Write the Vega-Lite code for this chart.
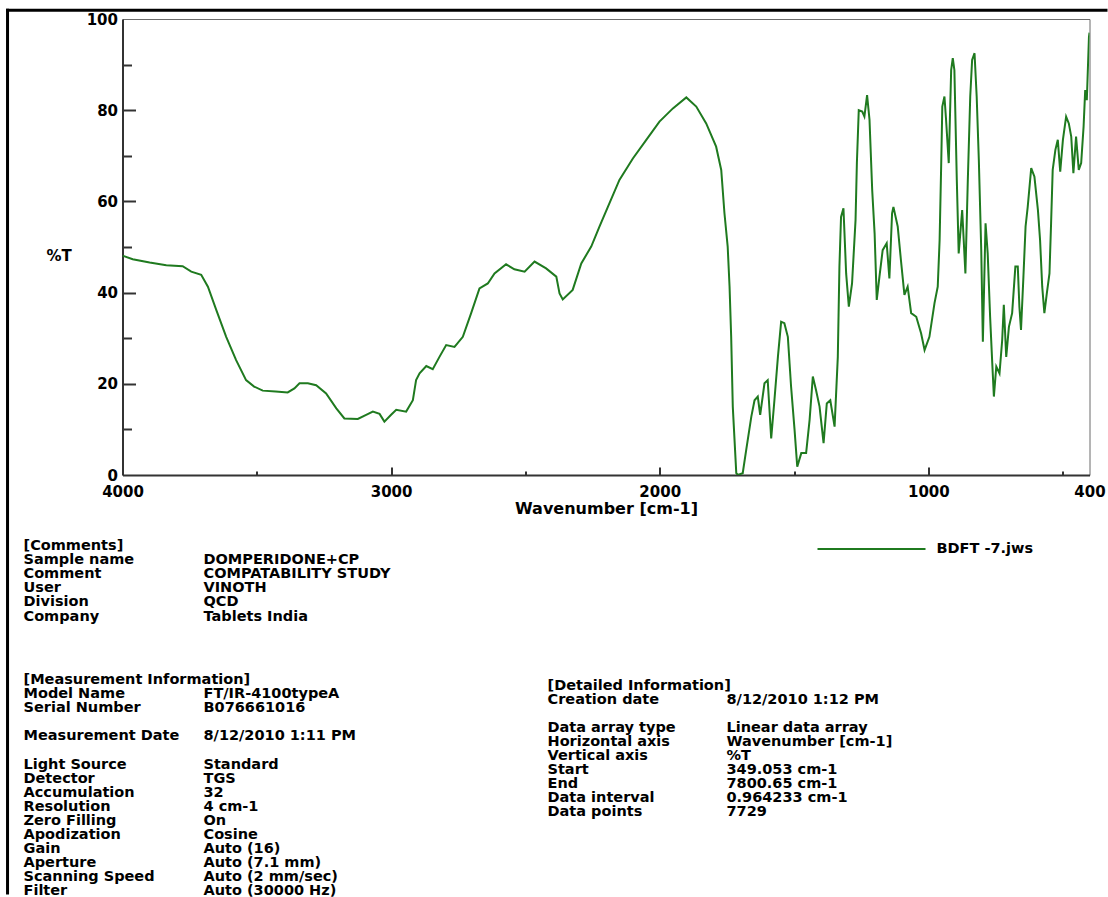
{
  "$schema": "https://vega.github.io/schema/vega-lite/v6.json",
  "background": "white",
  "padding": {"left": 3.5, "top": 6, "right": 0, "bottom": 0},
  "bounds": "flush",
  "spacing": 10,
  "config": {
    "font": "DejaVu Sans",
    "axis": {"grid": false, "labelFont": "DejaVu Sans", "labelFontWeight": "bold", "labelColor": "black", "titleFont": "DejaVu Sans", "titleFontWeight": "bold", "titleColor": "black"}
  },
  "datasets": {
    "spectrum": [
      {"wavenumber": 4000, "transmittance": 48.1}, {"wavenumber": 3962, "transmittance": 47.3}, {"wavenumber": 3899, "transmittance": 46.6},
      {"wavenumber": 3837, "transmittance": 46.0}, {"wavenumber": 3776, "transmittance": 45.8}, {"wavenumber": 3744, "transmittance": 44.6},
      {"wavenumber": 3707, "transmittance": 43.9}, {"wavenumber": 3682, "transmittance": 41.3}, {"wavenumber": 3651, "transmittance": 36.2},
      {"wavenumber": 3614, "transmittance": 30.3}, {"wavenumber": 3577, "transmittance": 25.2}, {"wavenumber": 3540, "transmittance": 20.8},
      {"wavenumber": 3510, "transmittance": 19.4}, {"wavenumber": 3478, "transmittance": 18.5}, {"wavenumber": 3430, "transmittance": 18.3},
      {"wavenumber": 3385, "transmittance": 18.1}, {"wavenumber": 3360, "transmittance": 19.0}, {"wavenumber": 3341, "transmittance": 20.1},
      {"wavenumber": 3310, "transmittance": 20.1}, {"wavenumber": 3279, "transmittance": 19.7}, {"wavenumber": 3242, "transmittance": 17.9},
      {"wavenumber": 3204, "transmittance": 14.6}, {"wavenumber": 3174, "transmittance": 12.4}, {"wavenumber": 3124, "transmittance": 12.3},
      {"wavenumber": 3093, "transmittance": 13.2}, {"wavenumber": 3068, "transmittance": 13.9}, {"wavenumber": 3043, "transmittance": 13.4},
      {"wavenumber": 3025, "transmittance": 11.7}, {"wavenumber": 3000, "transmittance": 13.2}, {"wavenumber": 2981, "transmittance": 14.3},
      {"wavenumber": 2944, "transmittance": 13.9}, {"wavenumber": 2919, "transmittance": 16.4}, {"wavenumber": 2907, "transmittance": 20.8},
      {"wavenumber": 2894, "transmittance": 22.3}, {"wavenumber": 2869, "transmittance": 23.9}, {"wavenumber": 2845, "transmittance": 23.2},
      {"wavenumber": 2820, "transmittance": 25.9}, {"wavenumber": 2795, "transmittance": 28.5}, {"wavenumber": 2764, "transmittance": 28.1},
      {"wavenumber": 2733, "transmittance": 30.3}, {"wavenumber": 2702, "transmittance": 35.5}, {"wavenumber": 2671, "transmittance": 40.9},
      {"wavenumber": 2640, "transmittance": 42.0}, {"wavenumber": 2615, "transmittance": 44.2}, {"wavenumber": 2572, "transmittance": 46.2},
      {"wavenumber": 2541, "transmittance": 45.1}, {"wavenumber": 2503, "transmittance": 44.6}, {"wavenumber": 2466, "transmittance": 46.8},
      {"wavenumber": 2423, "transmittance": 45.3}, {"wavenumber": 2385, "transmittance": 43.5}, {"wavenumber": 2373, "transmittance": 39.8},
      {"wavenumber": 2361, "transmittance": 38.5}, {"wavenumber": 2324, "transmittance": 40.6}, {"wavenumber": 2292, "transmittance": 46.4},
      {"wavenumber": 2255, "transmittance": 50.1}, {"wavenumber": 2224, "transmittance": 54.5}, {"wavenumber": 2187, "transmittance": 59.6},
      {"wavenumber": 2150, "transmittance": 64.7}, {"wavenumber": 2100, "transmittance": 69.4}, {"wavenumber": 2050, "transmittance": 73.5},
      {"wavenumber": 2001, "transmittance": 77.5}, {"wavenumber": 1951, "transmittance": 80.4}, {"wavenumber": 1901, "transmittance": 82.8},
      {"wavenumber": 1864, "transmittance": 80.8}, {"wavenumber": 1827, "transmittance": 77.1}, {"wavenumber": 1790, "transmittance": 72.0},
      {"wavenumber": 1771, "transmittance": 66.9}, {"wavenumber": 1759, "transmittance": 57.4}, {"wavenumber": 1747, "transmittance": 50.1},
      {"wavenumber": 1740, "transmittance": 41.3}, {"wavenumber": 1734, "transmittance": 30.3}, {"wavenumber": 1728, "transmittance": 15.0},
      {"wavenumber": 1715, "transmittance": 0.4}, {"wavenumber": 1709, "transmittance": 0.0}, {"wavenumber": 1691, "transmittance": 0.4},
      {"wavenumber": 1678, "transmittance": 5.5}, {"wavenumber": 1659, "transmittance": 12.8}, {"wavenumber": 1647, "transmittance": 16.4},
      {"wavenumber": 1635, "transmittance": 17.2}, {"wavenumber": 1626, "transmittance": 13.2}, {"wavenumber": 1610, "transmittance": 20.1},
      {"wavenumber": 1598, "transmittance": 20.8}, {"wavenumber": 1585, "transmittance": 8.0}, {"wavenumber": 1573, "transmittance": 16.4},
      {"wavenumber": 1560, "transmittance": 25.9}, {"wavenumber": 1548, "transmittance": 33.6}, {"wavenumber": 1536, "transmittance": 33.3},
      {"wavenumber": 1523, "transmittance": 30.3}, {"wavenumber": 1511, "transmittance": 19.4}, {"wavenumber": 1498, "transmittance": 9.9},
      {"wavenumber": 1488, "transmittance": 1.8}, {"wavenumber": 1473, "transmittance": 4.8}, {"wavenumber": 1455, "transmittance": 4.8},
      {"wavenumber": 1442, "transmittance": 12.1}, {"wavenumber": 1430, "transmittance": 21.6}, {"wavenumber": 1418, "transmittance": 18.6},
      {"wavenumber": 1405, "transmittance": 15.0}, {"wavenumber": 1390, "transmittance": 7.0}, {"wavenumber": 1378, "transmittance": 15.7},
      {"wavenumber": 1365, "transmittance": 16.4}, {"wavenumber": 1349, "transmittance": 10.6}, {"wavenumber": 1337, "transmittance": 25.9},
      {"wavenumber": 1331, "transmittance": 45.7}, {"wavenumber": 1325, "transmittance": 56.6}, {"wavenumber": 1316, "transmittance": 58.5},
      {"wavenumber": 1306, "transmittance": 44.2}, {"wavenumber": 1296, "transmittance": 36.9}, {"wavenumber": 1284, "transmittance": 42.0},
      {"wavenumber": 1271, "transmittance": 55.9}, {"wavenumber": 1266, "transmittance": 68.4}, {"wavenumber": 1259, "transmittance": 80.0},
      {"wavenumber": 1246, "transmittance": 79.7}, {"wavenumber": 1238, "transmittance": 78.6}, {"wavenumber": 1228, "transmittance": 83.3},
      {"wavenumber": 1219, "transmittance": 77.9}, {"wavenumber": 1209, "transmittance": 62.5}, {"wavenumber": 1200, "transmittance": 53.0},
      {"wavenumber": 1192, "transmittance": 38.4}, {"wavenumber": 1182, "transmittance": 43.5}, {"wavenumber": 1170, "transmittance": 49.3},
      {"wavenumber": 1155, "transmittance": 50.8}, {"wavenumber": 1145, "transmittance": 43.1}, {"wavenumber": 1135, "transmittance": 57.4},
      {"wavenumber": 1130, "transmittance": 58.8}, {"wavenumber": 1114, "transmittance": 54.5}, {"wavenumber": 1102, "transmittance": 47.1},
      {"wavenumber": 1089, "transmittance": 39.5}, {"wavenumber": 1077, "transmittance": 41.3}, {"wavenumber": 1064, "transmittance": 35.5},
      {"wavenumber": 1045, "transmittance": 34.7}, {"wavenumber": 1027, "transmittance": 31.1}, {"wavenumber": 1014, "transmittance": 27.4},
      {"wavenumber": 996, "transmittance": 30.3}, {"wavenumber": 977, "transmittance": 37.7}, {"wavenumber": 965, "transmittance": 41.3},
      {"wavenumber": 958, "transmittance": 51.5}, {"wavenumber": 952, "transmittance": 68.4}, {"wavenumber": 948, "transmittance": 80.8},
      {"wavenumber": 940, "transmittance": 83.0}, {"wavenumber": 934, "transmittance": 77.9}, {"wavenumber": 924, "transmittance": 68.4},
      {"wavenumber": 915, "transmittance": 88.8}, {"wavenumber": 909, "transmittance": 91.4}, {"wavenumber": 903, "transmittance": 88.8},
      {"wavenumber": 894, "transmittance": 64.7}, {"wavenumber": 887, "transmittance": 48.6}, {"wavenumber": 874, "transmittance": 58.1},
      {"wavenumber": 862, "transmittance": 44.2}, {"wavenumber": 853, "transmittance": 64.7}, {"wavenumber": 844, "transmittance": 83.0},
      {"wavenumber": 837, "transmittance": 91.0}, {"wavenumber": 828, "transmittance": 92.5}, {"wavenumber": 820, "transmittance": 83.0},
      {"wavenumber": 812, "transmittance": 69.1}, {"wavenumber": 803, "transmittance": 49.3}, {"wavenumber": 797, "transmittance": 29.2},
      {"wavenumber": 787, "transmittance": 55.2}, {"wavenumber": 779, "transmittance": 48.6}, {"wavenumber": 770, "transmittance": 34.7},
      {"wavenumber": 762, "transmittance": 24.5}, {"wavenumber": 756, "transmittance": 17.2}, {"wavenumber": 747, "transmittance": 23.8},
      {"wavenumber": 735, "transmittance": 22.3}, {"wavenumber": 725, "transmittance": 29.6}, {"wavenumber": 719, "transmittance": 37.3},
      {"wavenumber": 710, "transmittance": 25.9}, {"wavenumber": 700, "transmittance": 32.5}, {"wavenumber": 688, "transmittance": 35.5},
      {"wavenumber": 676, "transmittance": 45.7}, {"wavenumber": 667, "transmittance": 45.7}, {"wavenumber": 661, "transmittance": 36.9},
      {"wavenumber": 655, "transmittance": 31.8}, {"wavenumber": 646, "transmittance": 43.5}, {"wavenumber": 638, "transmittance": 54.5},
      {"wavenumber": 630, "transmittance": 58.8}, {"wavenumber": 617, "transmittance": 67.3}, {"wavenumber": 605, "transmittance": 65.4},
      {"wavenumber": 592, "transmittance": 58.1}, {"wavenumber": 584, "transmittance": 51.5}, {"wavenumber": 576, "transmittance": 41.3},
      {"wavenumber": 568, "transmittance": 35.5}, {"wavenumber": 559, "transmittance": 39.8}, {"wavenumber": 549, "transmittance": 44.2},
      {"wavenumber": 543, "transmittance": 55.2}, {"wavenumber": 537, "transmittance": 66.9}, {"wavenumber": 527, "transmittance": 71.3},
      {"wavenumber": 518, "transmittance": 73.5}, {"wavenumber": 509, "transmittance": 66.5}, {"wavenumber": 499, "transmittance": 73.5},
      {"wavenumber": 487, "transmittance": 78.6}, {"wavenumber": 477, "transmittance": 77.1}, {"wavenumber": 468, "transmittance": 74.2},
      {"wavenumber": 460, "transmittance": 66.2}, {"wavenumber": 450, "transmittance": 74.2}, {"wavenumber": 440, "transmittance": 66.9},
      {"wavenumber": 431, "transmittance": 68.4}, {"wavenumber": 422, "transmittance": 76.4}, {"wavenumber": 416, "transmittance": 84.4},
      {"wavenumber": 410, "transmittance": 82.2}, {"wavenumber": 402, "transmittance": 96.1}, {"wavenumber": 400, "transmittance": 97.0}
    ],
    "info": [
      {"block": "left", "line": 0, "key": "[Comments]", "value": ""},
      {"block": "left", "line": 1, "key": "Sample name", "value": "DOMPERIDONE+CP"},
      {"block": "left", "line": 2, "key": "Comment", "value": "COMPATABILITY STUDY"},
      {"block": "left", "line": 3, "key": "User", "value": "VINOTH"},
      {"block": "left", "line": 4, "key": "Division", "value": "QCD"},
      {"block": "left", "line": 5, "key": "Company", "value": "Tablets India"},
      {"block": "left", "line": 9.5, "key": "[Measurement Information]", "value": ""},
      {"block": "left", "line": 10.5, "key": "Model Name", "value": "FT/IR-4100typeA"},
      {"block": "left", "line": 11.5, "key": "Serial Number", "value": "B076661016"},
      {"block": "left", "line": 13.5, "key": "Measurement Date", "value": "8/12/2010 1:11 PM"},
      {"block": "left", "line": 15.5, "key": "Light Source", "value": "Standard"},
      {"block": "left", "line": 16.5, "key": "Detector", "value": "TGS"},
      {"block": "left", "line": 17.5, "key": "Accumulation", "value": "32"},
      {"block": "left", "line": 18.5, "key": "Resolution", "value": "4 cm-1"},
      {"block": "left", "line": 19.5, "key": "Zero Filling", "value": "On"},
      {"block": "left", "line": 20.5, "key": "Apodization", "value": "Cosine"},
      {"block": "left", "line": 21.5, "key": "Gain", "value": "Auto (16)"},
      {"block": "left", "line": 22.5, "key": "Aperture", "value": "Auto (7.1 mm)"},
      {"block": "left", "line": 23.5, "key": "Scanning Speed", "value": "Auto (2 mm/sec)"},
      {"block": "left", "line": 24.5, "key": "Filter", "value": "Auto (30000 Hz)"},
      {"block": "right", "line": 9.9, "key": "[Detailed Information]", "value": ""},
      {"block": "right", "line": 10.9, "key": "Creation date", "value": "8/12/2010 1:12 PM"},
      {"block": "right", "line": 12.9, "key": "Data array type", "value": "Linear data array"},
      {"block": "right", "line": 13.9, "key": "Horizontal axis", "value": "Wavenumber [cm-1]"},
      {"block": "right", "line": 14.9, "key": "Vertical axis", "value": "%T"},
      {"block": "right", "line": 15.9, "key": "Start", "value": "349.053 cm-1"},
      {"block": "right", "line": 16.9, "key": "End", "value": "7800.65 cm-1"},
      {"block": "right", "line": 17.9, "key": "Data interval", "value": "0.964233 cm-1"},
      {"block": "right", "line": 18.9, "key": "Data points", "value": "7729"}
    ]
  },
  "vconcat": [
    {
      "width": 967,
      "height": 456,
      "view": {"stroke": "#6b6b6b", "strokeWidth": 1},
      "layer": [
        {
          "data": {"name": "spectrum"},
          "mark": {"type": "line", "strokeWidth": 2, "clip": true},
          "encoding": {
            "x": {
              "field": "wavenumber", "type": "quantitative",
              "scale": {"domain": [400, 4000], "reverse": true, "nice": false, "zero": false},
              "axis": {
                "orient": "bottom", "values": [4000, 3000, 2000, 1000, 400], "format": "d",
                "title": "Wavenumber [cm-1]", "titleFontSize": 16, "titleY": 33, "titleBaseline": "middle",
                "tickSize": -8, "tickWidth": 2, "tickColor": "#333",
                "tickOpacity": {"condition": {"test": "datum.value == 4000 || datum.value == 400", "value": 0}, "value": 1},
                "domainColor": "#333", "domainWidth": 2,
                "labelFontSize": 15, "labelPadding": 17, "labelFlush": false, "labelOverlap": false
              }
            },
            "y": {
              "field": "transmittance", "type": "quantitative",
              "scale": {"domain": [0, 100], "nice": false, "zero": false},
              "axis": {
                "orient": "left", "values": [0, 20, 40, 60, 80, 100],
                "title": "%T", "titleAngle": 0, "titleX": -64, "titleY": 236, "titleAlign": "center", "titleBaseline": "middle", "titleFontSize": 15,
                "tickSize": -13, "tickWidth": 2, "tickColor": "#333",
                "tickOpacity": {"condition": {"test": "datum.value == 0 || datum.value == 100", "value": 0}, "value": 1},
                "domainColor": "#333", "domainWidth": 2,
                "labelFontSize": 15, "labelPadding": 18, "labelFlush": false, "labelOverlap": false
              }
            },
            "color": {
              "datum": "BDFT -7.jws",
              "scale": {"range": ["#1f7a1f"]},
              "legend": {
                "orient": "none", "legendX": 694, "legendY": 475, "title": null, "padding": 0,
                "symbolType": "stroke", "symbolSize": 11664, "symbolStrokeWidth": 2,
                "labelFont": "DejaVu Sans", "labelFontSize": 14.5, "labelFontWeight": "bold", "labelColor": "black", "labelOffset": 10
              }
            }
          }
        },
        {
          "data": {"values": [{}]},
          "mark": {"type": "rule", "color": "black", "strokeWidth": 3, "strokeCap": "butt"},
          "encoding": {
            "x": {
              "datum": 4433, "type": "quantitative",
              "scale": {"domain": [400, 4000], "reverse": true, "nice": false, "zero": false},
              "axis": {"orient": "bottom", "values": [3500, 2500, 1500, 500], "tickSize": -4, "tickWidth": 2, "tickColor": "#333", "labels": false, "domain": false, "title": null}
            },
            "x2": {"datum": 333},
            "y": {
              "datum": 101.9, "type": "quantitative",
              "scale": {"domain": [0, 100], "nice": false, "zero": false},
              "axis": {"orient": "left", "values": [10, 30, 50, 70, 90], "tickSize": -9, "tickWidth": 2, "tickColor": "#333", "labels": false, "domain": false, "title": null}
            }
          }
        },
        {
          "data": {"values": [{}]},
          "mark": {"type": "rule", "color": "black", "strokeWidth": 3, "strokeCap": "butt"},
          "encoding": {
            "x": {"datum": 4428, "type": "quantitative", "scale": {"domain": [400, 4000], "reverse": true, "nice": false, "zero": false}, "axis": null},
            "y": {"datum": 102.23, "type": "quantitative", "scale": {"domain": [0, 100], "nice": false, "zero": false}, "axis": null},
            "y2": {"datum": -92}
          }
        }
      ],
      "resolve": {"axis": {"x": "independent", "y": "independent"}}
    },
    {
      "width": 967,
      "height": 405,
      "view": {"stroke": null},
      "data": {"name": "info"},
      "encoding": {
        "y": {"field": "line", "type": "quantitative", "scale": {"domain": [0, 25], "range": [61, 413.5], "nice": false, "zero": false}, "axis": null}
      },
      "layer": [
        {
          "mark": {"type": "text", "align": "left", "baseline": "middle", "font": "DejaVu Sans", "fontWeight": "bold", "fontSize": 14.5, "color": "black"},
          "encoding": {
            "x": {"field": "block", "type": "nominal", "scale": {"type": "point", "domain": ["left", "right"], "range": [-99, 425], "padding": 0}, "axis": null},
            "text": {"field": "key"}
          }
        },
        {
          "mark": {"type": "text", "align": "left", "baseline": "middle", "font": "DejaVu Sans", "fontWeight": "bold", "fontSize": 14.5, "color": "black"},
          "encoding": {
            "x": {"field": "block", "type": "nominal", "scale": {"type": "point", "domain": ["left", "right"], "range": [81, 604], "padding": 0}, "axis": null},
            "text": {"field": "value"}
          }
        }
      ],
      "resolve": {"scale": {"x": "independent"}}
    }
  ]
}
